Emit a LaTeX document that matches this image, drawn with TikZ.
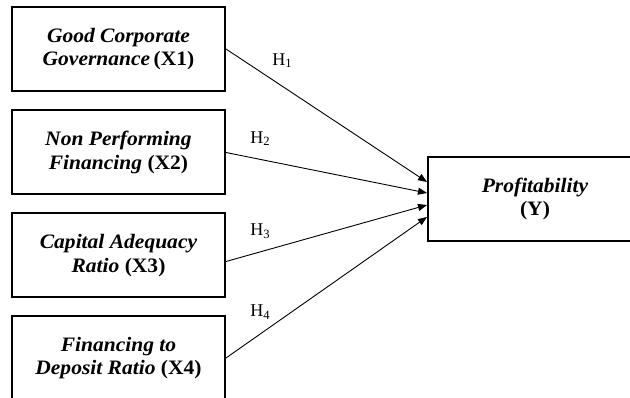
\documentclass[tikz,border=0pt]{standalone}
\usepackage{fontspec}
\setmainfont{Liberation Serif}
\newfontfamily\boxfont[FakeStretch=1.05]{Liberation Serif}
\usetikzlibrary{arrows.meta,calc}

\tikzset{
  varbox/.style={draw, line width=2pt, minimum width=213pt, minimum height=84pt,
    align=center, font=\boxfont\fontsize{20.5}{23.5}\selectfont\bfseries\itshape},
  hlabel/.style={font=\fontsize{18}{20}\selectfont, inner sep=1pt}
}

\begin{document}
\begin{tikzpicture}[x=1pt,y=-1pt]

\useasboundingbox (0,0) rectangle (630,398);
\clip (0,0) rectangle (630,398);

\node [varbox] (gcg) at (118.5,49) {Good Corporate\\Governance\,\textup{(X1)}};
\node [varbox] (npf) at (118.5,152.5) {Non Performing\\Financing \textup{(X2)}};
\node [varbox] (car) at (118.5,255.5) {Capital Adequacy\\Ratio \textup{(X3)}};
\node [varbox] (fdr) at (118.5,358) {Financing to\\Deposit Ratio \textup{(X4)}};

\node [varbox, minimum width=214pt] (prof) at (535,199) {Profitability\\\textup{(Y)}};

\begin{scope}[line width=0.9pt, -{Triangle[length=9pt,width=7pt]}]
\draw (gcg.east) -- ($(prof.west)+(0,-17)$) node [hlabel, pos=0.28, above=17pt] {H\textsubscript{1}};
\draw (npf.east) -- ($(prof.west)+(0,-6)$) node [hlabel, pos=0.17, above=12pt] {H\textsubscript{2}};
\draw ([yshift=-6pt]car.east) -- ($(prof.west)+(0,6)$) node [hlabel, pos=0.17, above=12pt] {H\textsubscript{3}};
\draw (fdr.east) -- ($(prof.west)+(0,18)$) node [hlabel, pos=0.17, above=13pt] {H\textsubscript{4}};
\end{scope}

\end{tikzpicture}
\end{document}
